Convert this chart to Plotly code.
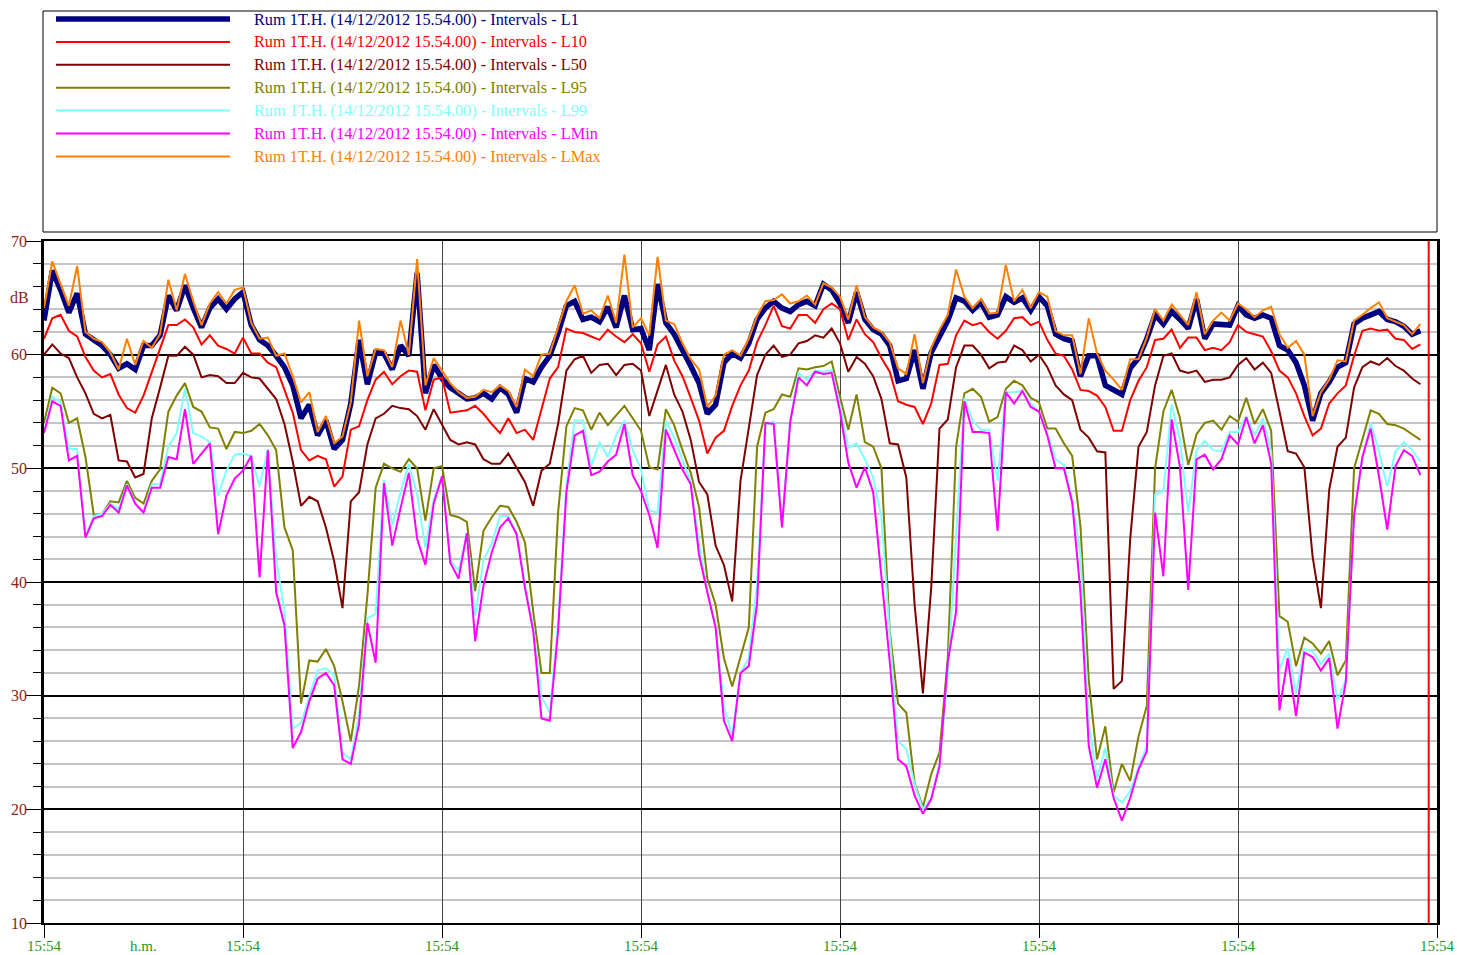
import plotly.graph_objects as go

# ---------------- data (dB values per interval) ----------------
series_names = ["L1", "L10", "L50", "L95", "L99", "LMin", "LMax"]
label_prefix = "Rum 1T.H. (14/12/2012 15.54.00) - Intervals - "
x_tick_labels = ["15:54"] * 8
y_tick_values = [10, 20, 30, 40, 50, 60, 70]

L1 = [63.0, 67.4, 65.7, 63.7, 65.4, 61.8, 61.3, 60.8, 60.0, 58.8, 59.2, 58.7, 60.8, 60.8, 61.7, 65.2, 63.9, 66.1, 64.1, 62.4, 64.1, 64.9, 64.0, 64.9, 65.5,
      62.6, 61.3, 60.8, 59.9, 58.9, 57.3, 54.4, 55.6, 52.9, 54.2, 51.7, 52.5, 55.7, 61.3, 57.4, 60.2, 60.1, 58.7, 60.8, 59.9, 67.2, 56.6, 59.1, 57.9,
      57.1, 56.6, 56.1, 56.2, 56.6, 56.1, 57.1, 56.5, 54.9, 57.9, 57.6, 58.9, 59.9, 61.9, 64.3, 64.7, 63.1, 63.3, 62.9, 64.2, 62.4, 65.2, 62.2, 62.3,
      60.4, 66.2, 62.8, 61.8, 60.5, 59.0, 57.5, 54.8, 55.6, 59.3, 60.1, 59.7, 61.0, 63.1, 64.1, 64.7, 64.1, 63.8, 64.4, 64.7, 64.3, 66.2, 65.7, 64.5,
      62.8, 65.5, 63.1, 62.2, 61.8, 60.8, 57.7, 57.9, 60.4, 57.0, 60.2, 61.7, 63.0, 65.0, 64.7, 63.9, 64.6, 63.3, 63.5, 65.1, 64.6, 65.0, 63.9, 65.1,
      64.3, 61.8, 61.4, 61.2, 58.1, 59.9, 59.9, 57.3, 56.9, 56.5, 58.8, 59.7, 61.4, 63.5, 62.7, 63.8, 63.1, 62.3, 64.9, 61.4, 62.7, 62.7, 62.6, 64.3,
      63.5, 63.2, 63.5, 63.2, 60.8, 60.4, 59.3, 57.3, 54.2, 56.6, 57.6, 58.9, 59.3, 62.7, 63.2, 63.5, 63.8, 63.1, 62.9, 62.5, 61.8, 62.1]

L10 = [61.4, 63.2, 63.5, 62.1, 61.6, 59.8, 58.6, 58.0, 58.3, 56.5, 55.3, 54.9, 56.4, 58.5, 60.5, 62.6, 62.6, 63.1, 62.4, 60.9, 61.7, 60.8, 60.5, 60.1, 61.5,
       60.1, 60.1, 59.3, 58.9, 56.8, 54.9, 51.6, 50.7, 51.1, 50.8, 48.4, 49.3, 53.4, 53.7, 56.0, 57.8, 58.5, 57.4, 58.1, 58.6, 58.5, 55.1, 57.8, 58.0,
       54.9, 55.0, 55.1, 55.5, 54.8, 53.9, 53.1, 54.4, 53.1, 53.4, 52.5, 55.2, 57.9, 58.9, 62.3, 62.0, 61.9, 61.6, 61.3, 62.2, 61.6, 61.1, 61.8, 61.0,
       58.5, 60.9, 61.6, 59.5, 58.1, 56.2, 54.2, 51.3, 52.7, 53.3, 55.5, 57.3, 58.6, 61.1, 62.6, 64.3, 62.5, 62.3, 63.5, 63.5, 62.8, 64.0, 64.5, 64.0,
       61.3, 63.1, 61.8, 61.1, 59.7, 58.5, 55.9, 55.6, 55.4, 53.9, 55.7, 59.1, 59.2, 61.7, 63.0, 62.6, 62.8, 62.0, 61.4, 62.1, 63.2, 63.3, 62.6, 62.9,
       61.3, 60.1, 59.9, 58.7, 56.9, 56.8, 56.4, 55.4, 53.3, 53.3, 56.0, 57.7, 58.9, 61.3, 61.4, 62.2, 60.6, 61.5, 61.5, 60.4, 60.6, 60.4, 61.1, 62.6,
       62.0, 61.8, 61.6, 60.3, 58.6, 58.0, 56.6, 54.6, 52.9, 53.5, 55.7, 56.6, 57.3, 59.9, 62.1, 62.3, 62.1, 62.2, 61.4, 61.3, 60.5, 60.9]

L50 = [60.0, 60.9, 60.1, 59.7, 58.0, 56.6, 54.8, 54.4, 54.7, 50.7, 50.6, 49.2, 49.5, 54.4, 57.1, 59.9, 59.9, 60.7, 60.0, 58.0, 58.2, 58.1, 57.5, 57.5, 58.4,
       58.0, 57.9, 57.0, 56.1, 53.9, 50.6, 46.7, 47.5, 47.1, 44.8, 41.8, 37.7, 47.1, 47.9, 52.1, 54.4, 54.8, 55.5, 55.3, 55.2, 54.6, 53.4, 55.2, 53.9,
       52.5, 52.1, 52.3, 52.1, 50.8, 50.4, 50.4, 51.3, 50.1, 48.8, 46.7, 49.8, 50.4, 53.9, 58.6, 59.6, 59.9, 58.4, 59.1, 59.2, 58.2, 59.1, 59.2, 58.6,
       54.6, 56.9, 59.1, 56.5, 55.0, 52.5, 48.8, 47.7, 43.2, 41.5, 38.3, 48.9, 53.5, 58.2, 60.0, 60.8, 59.8, 60.0, 61.0, 61.2, 61.7, 61.5, 62.3, 61.0,
       58.5, 59.8, 59.2, 58.1, 56.1, 52.2, 52.1, 49.2, 38.0, 30.2, 39.5, 53.5, 54.3, 58.9, 60.8, 60.8, 60.0, 58.8, 59.3, 59.4, 60.8, 60.4, 59.4, 60.0,
       58.9, 57.3, 56.5, 56.0, 53.4, 52.7, 51.5, 51.4, 30.6, 31.3, 43.8, 51.9, 53.2, 57.3, 59.9, 60.1, 58.6, 58.4, 58.6, 57.6, 57.8, 57.8, 58.0, 59.1,
       59.7, 58.7, 59.3, 58.4, 55.0, 51.5, 51.3, 50.1, 42.2, 37.7, 48.1, 51.9, 52.7, 57.1, 58.9, 59.4, 59.1, 59.7, 59.0, 58.6, 57.9, 57.4]

L95 = [54.0, 57.1, 56.6, 54.0, 54.4, 51.0, 45.9, 46.0, 47.1, 47.0, 48.9, 47.4, 46.9, 48.9, 49.9, 55.0, 56.4, 57.5, 55.4, 55.0, 53.6, 53.5, 51.7, 53.2, 53.1,
       53.3, 53.9, 52.9, 51.6, 44.8, 42.8, 29.3, 33.1, 33.0, 34.1, 32.6, 29.5, 26.0, 30.9, 38.8, 48.3, 50.4, 50.0, 49.7, 50.8, 50.0, 45.4, 50.0, 50.2,
       45.9, 45.7, 45.3, 39.2, 44.5, 45.7, 46.7, 46.6, 45.3, 43.5, 37.4, 32.0, 32.0, 46.1, 53.7, 55.3, 55.1, 53.4, 54.9, 53.8, 54.7, 55.5, 54.4, 53.3,
       50.1, 49.9, 55.2, 53.8, 51.6, 49.6, 46.6, 40.3, 38.0, 33.3, 30.8, 33.3, 36.0, 51.9, 54.9, 55.2, 56.5, 56.3, 58.8, 58.7, 58.9, 59.0, 59.4, 56.3,
       53.4, 56.5, 52.3, 51.9, 50.0, 35.7, 29.3, 28.5, 22.3, 20.2, 23.1, 25.0, 33.3, 51.9, 56.6, 57.0, 56.3, 54.1, 54.5, 57.0, 57.7, 57.3, 56.2, 55.8,
       53.5, 53.5, 52.2, 51.1, 44.9, 31.4, 24.4, 27.3, 21.5, 24.0, 22.5, 26.4, 29.1, 50.0, 55.0, 56.9, 54.4, 50.3, 53.0, 54.0, 54.2, 53.4, 54.6, 54.1,
       56.2, 53.9, 55.2, 53.3, 37.0, 36.5, 32.6, 35.1, 34.6, 33.7, 34.8, 31.8, 33.1, 50.0, 52.5, 55.1, 54.8, 53.9, 53.8, 53.5, 53.0, 52.5]

L99 = [53.1, 56.3, 55.8, 51.7, 51.7, 44.0, 45.8, 46.0, 46.9, 46.4, 48.6, 47.0, 46.1, 48.6, 48.6, 51.9, 53.1, 57.0, 53.1, 52.8, 52.3, 47.6, 49.8, 51.2, 51.3,
       51.1, 48.4, 51.7, 42.0, 37.5, 27.1, 27.6, 29.9, 32.2, 32.4, 31.8, 25.0, 24.4, 28.3, 36.8, 37.2, 49.0, 45.0, 47.9, 50.4, 47.7, 43.0, 47.3, 49.2,
       41.9, 41.0, 44.3, 37.0, 41.9, 43.4, 45.8, 45.8, 44.3, 39.9, 36.0, 29.9, 28.5, 36.5, 48.5, 54.2, 54.2, 50.2, 52.3, 51.0, 52.9, 54.2, 51.6, 49.9,
       46.3, 46.1, 54.2, 52.7, 50.8, 48.8, 43.4, 39.1, 36.0, 29.1, 26.4, 32.0, 33.3, 39.9, 53.8, 54.1, 45.0, 54.2, 58.4, 57.8, 58.6, 58.5, 58.6, 55.6,
       51.8, 52.2, 50.8, 49.2, 45.7, 35.3, 26.0, 25.3, 22.2, 20.0, 21.0, 24.0, 31.7, 44.0, 56.2, 54.2, 53.4, 53.4, 48.9, 56.7, 56.7, 56.8, 55.7, 54.9,
       53.1, 50.8, 50.3, 47.3, 42.4, 27.6, 22.7, 25.4, 21.2, 20.6, 21.6, 23.7, 25.6, 47.7, 48.0, 55.6, 52.5, 46.1, 51.6, 52.4, 51.6, 51.5, 53.2, 53.2,
       54.6, 52.9, 54.4, 51.5, 32.3, 34.2, 30.2, 34.1, 33.9, 32.8, 33.7, 29.6, 31.4, 45.9, 50.8, 54.0, 51.5, 48.4, 51.5, 52.3, 51.6, 50.6]

LMin = [53.1, 55.9, 55.5, 50.7, 51.1, 43.9, 45.6, 45.8, 46.8, 46.1, 48.5, 46.9, 46.1, 48.3, 48.3, 51.0, 50.8, 55.2, 50.4, 51.3, 52.2, 44.2, 47.6, 49.1, 49.8,
        51.1, 40.4, 51.6, 39.1, 36.2, 25.4, 26.8, 29.5, 31.5, 32.0, 30.9, 24.4, 24.0, 27.5, 36.4, 32.9, 48.7, 43.2, 46.5, 49.6, 43.8, 41.5, 46.9, 49.3,
        41.7, 40.3, 44.3, 34.8, 39.7, 42.6, 44.8, 45.6, 44.2, 39.5, 35.7, 28.0, 27.8, 35.7, 47.9, 52.9, 53.3, 49.4, 49.7, 50.6, 51.2, 53.9, 49.4, 48.0,
        45.9, 43.0, 53.4, 51.6, 49.9, 48.6, 42.4, 39.1, 36.0, 27.8, 26.0, 32.0, 32.6, 38.1, 54.0, 53.9, 44.8, 54.1, 58.0, 57.3, 58.5, 58.3, 58.4, 55.0,
        50.5, 48.3, 50.1, 47.9, 40.3, 33.0, 24.4, 23.8, 21.2, 19.6, 20.9, 23.8, 33.0, 37.4, 55.9, 53.2, 53.2, 53.1, 44.5, 56.7, 55.7, 56.8, 55.4, 55.0,
        52.9, 50.0, 50.0, 47.0, 39.1, 25.6, 21.9, 24.4, 21.0, 19.0, 21.0, 23.5, 25.1, 46.1, 40.5, 54.3, 50.1, 39.3, 50.8, 51.2, 49.9, 50.8, 52.9, 52.1,
        54.5, 52.2, 53.8, 50.4, 28.7, 33.3, 28.2, 33.8, 33.4, 32.2, 33.3, 27.1, 31.2, 45.8, 51.0, 53.5, 49.3, 44.6, 50.2, 51.6, 51.1, 49.4]

LMax = [64.1, 68.2, 66.2, 64.3, 67.8, 62.0, 61.4, 61.1, 60.2, 58.7, 61.4, 59.1, 61.2, 60.6, 61.8, 66.6, 63.9, 67.1, 64.7, 62.6, 64.5, 65.5, 64.5, 65.7, 65.9,
        62.8, 61.4, 61.5, 59.9, 60.1, 58.1, 55.8, 56.7, 53.2, 54.6, 52.2, 52.8, 55.8, 63.0, 58.1, 60.5, 60.4, 58.9, 63.0, 60.0, 68.4, 57.3, 59.7, 58.6,
        57.5, 56.7, 56.2, 56.3, 56.9, 56.7, 57.3, 56.8, 55.4, 58.7, 58.1, 60.0, 60.1, 62.4, 64.7, 66.1, 63.6, 63.9, 63.2, 65.2, 62.8, 68.8, 62.4, 63.2,
        61.7, 68.6, 63.0, 62.7, 61.0, 59.6, 58.7, 55.4, 56.4, 60.0, 60.4, 59.9, 61.4, 63.4, 64.7, 64.8, 65.3, 64.5, 64.7, 65.2, 64.4, 66.3, 65.9, 65.1,
        63.1, 66.1, 63.3, 62.4, 62.0, 61.1, 58.8, 58.3, 61.8, 57.5, 60.6, 62.2, 63.5, 67.5, 65.1, 64.1, 64.9, 63.6, 63.7, 67.9, 64.7, 65.7, 64.1, 65.5,
        65.1, 62.1, 61.7, 61.7, 58.3, 63.2, 60.1, 58.6, 57.8, 56.9, 59.6, 59.6, 61.5, 64.0, 63.0, 64.4, 63.5, 62.6, 65.5, 61.8, 63.0, 63.7, 63.0, 64.5,
        64.0, 63.3, 63.9, 64.2, 61.8, 60.6, 61.2, 60.0, 54.6, 56.7, 57.8, 59.5, 59.4, 63.0, 63.5, 64.1, 64.6, 63.2, 62.9, 62.6, 61.8, 62.7]

cursor_index = 167          # red cursor line position (interval index)
intervals_per_tick = 24
n_ticks = 8

# ---------------- styles ----------------
colors = {"L1": "#000080", "L10": "#FF0000", "L50": "#800000", "L95": "#808000",
          "L99": "#80FFFF", "LMin": "#FF00FF", "LMax": "#FF8000"}
widths = {"L1": 5.5, "L10": 2, "L50": 2, "L95": 2, "L99": 2, "LMin": 2, "LMax": 2}
values = {"L1": L1, "L10": L10, "L50": L50, "L95": L95, "L99": L99, "LMin": LMin, "LMax": LMax}
FONT = "Liberation Serif, Times New Roman, serif"
GREEN = "#229922"
MAROON = "#8B2323"

fig = go.Figure()
for name in series_names:
    ys = values[name]
    fig.add_trace(go.Scatter(x=list(range(len(ys))), y=ys, mode="lines",
                             line=dict(color=colors[name], width=widths[name]),
                             name=label_prefix + name, showlegend=False))

# plot geometry in pixels (for the hand-drawn legend box above the plot)
W, H = 1457, 955
ml, mr, mt, mb = 44, 20, 241, 32
pw, ph = W - ml - mr, H - mt - mb

def px_x(X):
    return (X - ml) / pw

def px_y(Y):
    return (H - mb - Y) / ph

shapes = []
annotations = []
# legend frame
shapes.append(dict(type="rect", xref="paper", yref="paper",
                   x0=px_x(43), x1=px_x(1437), y0=px_y(232), y1=px_y(11),
                   line=dict(color="black", width=1), fillcolor="white", layer="below"))
for k, name in enumerate(series_names):
    yy = px_y(19 + k * 22.9)
    shapes.append(dict(type="line", xref="paper", yref="paper",
                       x0=px_x(56), x1=px_x(230), y0=yy, y1=yy,
                       line=dict(color=colors[name], width=widths[name])))
    annotations.append(dict(xref="paper", yref="paper", x=px_x(252), y=yy,
                            xanchor="left", yanchor="middle", showarrow=False,
                            text=label_prefix + name,
                            font=dict(family=FONT, size=16.3, color=colors[name])))

# cursor line
shapes.append(dict(type="line", xref="x", yref="paper", x0=cursor_index, x1=cursor_index,
                   y0=0, y1=1, line=dict(color="#FF0000", width=2)))

# axis unit labels
annotations.append(dict(xref="paper", yref="y", x=px_x(19), y=65, text="dB", showarrow=False,
                        xanchor="center", yanchor="middle",
                        font=dict(family=FONT, size=16, color=MAROON)))
annotations.append(dict(xref="x", yref="paper", x=12, y=px_y(946), text="h.m.", showarrow=False,
                        xanchor="center", yanchor="middle",
                        font=dict(family=FONT, size=15, color=GREEN)))

fig.update_layout(
    width=W, height=H,
    margin=dict(l=ml, r=mr, t=mt, b=mb, autoexpand=False),
    paper_bgcolor="white", plot_bgcolor="white",
    shapes=shapes, annotations=annotations,
    showlegend=False,
    xaxis=dict(range=[0, intervals_per_tick * (n_ticks - 1)],
               tickmode="array",
               tickvals=[i * intervals_per_tick for i in range(n_ticks)],
               ticktext=x_tick_labels,
               showgrid=True, gridcolor="#444444", gridwidth=1,
               ticks="outside", ticklen=13, tickcolor="black", tickwidth=1,
               ticklabelstandoff=-5,
               tickfont=dict(family=FONT, size=15, color=GREEN),
               showline=True, linecolor="black", linewidth=2, mirror=True,
               zeroline=False, automargin=False),
    yaxis=dict(range=[10, 70], tickmode="array", tickvals=y_tick_values,
               showgrid=True, gridcolor="black", gridwidth=1.5,
               ticks="outside", ticklen=15, tickcolor="black", tickwidth=1,
               ticklabelstandoff=-4,
               tickfont=dict(family=FONT, size=16, color=MAROON),
               minor=dict(dtick=2, tick0=10, ticks="outside", ticklen=8,
                          tickcolor="black", showgrid=True,
                          gridcolor="#C4C4C4", gridwidth=1.5),
               showline=True, linecolor="black", linewidth=2.5, mirror=True,
               zeroline=False, automargin=False),
)

fig.write_html("out.html", config={"displayModeBar": False},
               post_script="document.body.style.margin='0px';document.body.style.overflow='hidden';")
